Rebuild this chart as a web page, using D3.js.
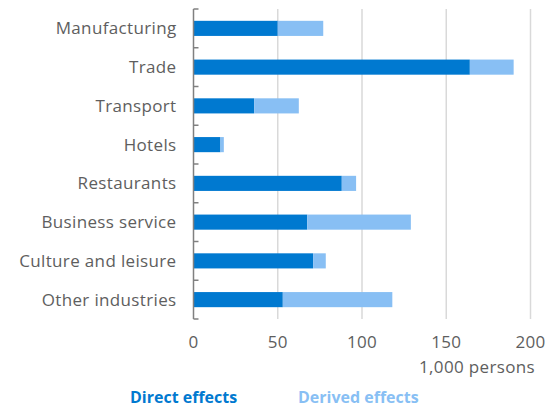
<!DOCTYPE html>
<html>
<head>
<meta charset="utf-8">
<script src="https://cdn.jsdelivr.net/npm/d3@7"></script>
<style>
  body { margin: 0; background: #fff; }
  text { font-family: "Open Sans", "Noto Sans", sans-serif; font-size: 17px; }
</style>
</head>
<body>
<div id="chart"></div>
<script>
var categories = ["Manufacturing", "Trade", "Transport", "Hotels", "Restaurants",
  "Business service", "Culture and leisure", "Other industries"];
var directEffects = [50, 164, 36, 16, 88, 67.5, 71, 53];
var derivedEffects = [27, 26, 26.5, 2, 8.5, 61.5, 7.5, 65];
var xTicks = [0, 50, 100, 150, 200];
var seriesNames = ["Direct effects", "Derived effects"];
var colors = ["#0079d0", "#88bff4"];

var W = 550, H = 407;
var margin = {top: 9, right: 20, bottom: 88, left: 193.5};
var width = 530.5 - margin.left,
    height = 319 - margin.top;

var svg = d3.select("#chart").append("svg")
  .attr("width", W)
  .attr("height", H);
var g = svg.append("g")
  .attr("transform", "translate(" + margin.left + "," + margin.top + ")");

var x = d3.scaleLinear().domain([0, 200]).range([0, width]);
var y = d3.scaleBand().domain(categories).range([0, height])
  .paddingInner(0.61).paddingOuter(0.305);
var step = y.step();

// vertical gridlines
g.selectAll(".grid").data(xTicks.slice(1)).enter().append("line")
  .attr("x1", d => x(d)).attr("x2", d => x(d))
  .attr("y1", 0).attr("y2", height)
  .attr("stroke", "#d9d9d9").attr("stroke-width", 1.5);

// stacked bars
var rows = categories.map(function(c, i) {
  return {cat: c, direct: directEffects[i], derived: derivedEffects[i]};
});
g.selectAll(".direct").data(rows).enter().append("rect")
  .attr("x", x(0))
  .attr("y", d => y(d.cat))
  .attr("width", d => x(d.direct) - x(0))
  .attr("height", y.bandwidth())
  .attr("fill", colors[0]);
g.selectAll(".derived").data(rows).enter().append("rect")
  .attr("x", d => x(d.direct))
  .attr("y", d => y(d.cat))
  .attr("width", d => x(d.direct + d.derived) - x(d.direct))
  .attr("height", y.bandwidth())
  .attr("fill", colors[1]);

// category axis: line plus ticks at band boundaries
g.append("line")
  .attr("x1", 0).attr("x2", 0).attr("y1", 0).attr("y2", height)
  .attr("stroke", "#808080").attr("stroke-width", 1.5);
g.selectAll(".ytick").data(d3.range(categories.length + 1)).enter().append("line")
  .attr("x1", 0).attr("x2", 5)
  .attr("y1", d => d * step).attr("y2", d => d * step)
  .attr("stroke", "#808080").attr("stroke-width", 1.5);
g.selectAll(".ylab").data(categories).enter().append("text")
  .attr("x", -17)
  .attr("y", d => y(d) + y.bandwidth() / 2)
  .attr("dy", "0.35em")
  .attr("text-anchor", "end")
  .attr("letter-spacing", 0.35)
  .attr("fill", "#5e5e5e")
  .text(d => d);

// x tick labels
g.selectAll(".xlab").data(xTicks).enter().append("text")
  .attr("x", d => x(d))
  .attr("y", height + 23)
  .attr("dy", "0.35em")
  .attr("text-anchor", "middle")
  .attr("letter-spacing", 0.35)
  .attr("fill", "#5e5e5e")
  .text(d => d);

g.append("text")
  .attr("x", 535 - margin.left)
  .attr("y", 367.5 - margin.top)
  .attr("dy", "0.35em")
  .attr("text-anchor", "end")
  .attr("letter-spacing", 0.35)
  .attr("fill", "#5e5e5e")
  .text("1,000 persons");

// legend
var legendX = [130, 298];
svg.selectAll(".legend").data(seriesNames).enter().append("text")
  .attr("x", (d, i) => legendX[i])
  .attr("y", 397)
  .attr("dy", "0.35em")
  .style("font-size", "16px")
  .attr("font-weight", "bold")
  .attr("fill", (d, i) => colors[i])
  .text(d => d);
</script>
</body>
</html>
